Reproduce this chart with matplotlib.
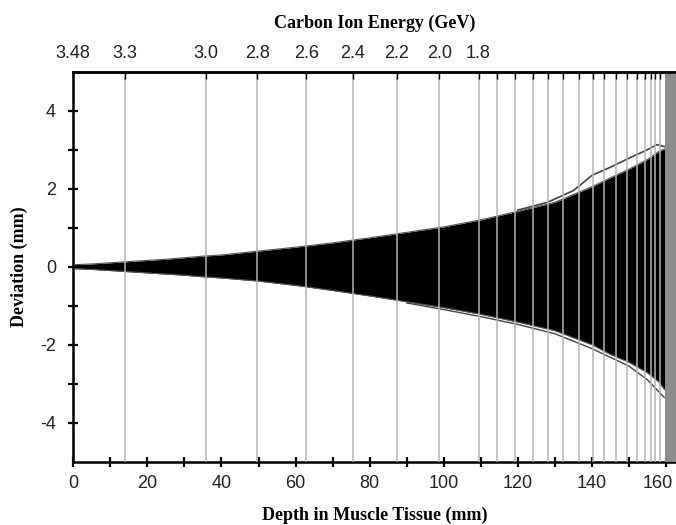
import numpy as np
import matplotlib
matplotlib.use("Agg")
import matplotlib.pyplot as plt
import matplotlib.transforms as mtransforms

plt.rcParams["axes.unicode_minus"] = False

# envelope of the simulated ion tracks (mm)
depth = [0, 5, 10, 15, 20, 25, 30, 35, 40, 50, 60, 70, 80, 90, 100,
         110, 120, 130, 140, 145, 150, 155, 158, 159.6]
upper = [0.05, 0.07, 0.10, 0.13, 0.16, 0.19, 0.23, 0.27, 0.30, 0.40, 0.50, 0.61, 0.74, 0.88, 1.02,
         1.20, 1.42, 1.65, 2.05, 2.28, 2.50, 2.75, 2.95, 3.02]
lower = [-0.05, -0.07, -0.10, -0.13, -0.16, -0.19, -0.22, -0.26, -0.29, -0.37, -0.48, -0.61, -0.75, -0.90, -1.05,
         -1.22, -1.42, -1.64, -2.00, -2.25, -2.45, -2.72, -2.95, -3.15]

# a few stray tracks outside the envelope
out_up_x = [120, 128, 135, 140, 145, 150, 155, 157.6, 159.5]
out_up_y = [1.45, 1.65, 1.95, 2.34, 2.55, 2.78, 3.00, 3.13, 3.08]
out_lo_x = [90, 100, 110, 120, 130, 140, 150, 155, 159.5]
out_lo_y = [-0.93, -1.10, -1.28, -1.48, -1.72, -2.10, -2.55, -2.90, -3.35]

# energy grid lines (depth where the carbon ion has given energy)
energy_depth = [13.96, 35.8, 49.7, 62.9, 75.4, 87.4, 98.8, 109.4, 114.3, 119.3, 124.0,
                128.1, 132.3, 136.4, 140.3, 143.3, 146.4, 149.4, 152.2, 154.4, 155.9, 157.1, 158.3]
label_depth = [0, 13.96, 35.8, 49.7, 62.9, 75.4, 87.4, 98.8, 109.4]
label_energy = ["3.48", "3.3", "3.0", "2.8", "2.6", "2.4", "2.2", "2.0", "1.8"]
band_start = 159.6
x_max = 162.7

fig = plt.figure(figsize=(6.76, 5.25), dpi=100)
ax = fig.add_axes([0.1084, 0.1206, 0.8916, 0.7429])

ax.fill_between(depth, lower, upper, color="black", lw=0, zorder=2)
ax.plot(depth, upper, color="#555555", lw=0.8, zorder=3)
ax.plot(depth, lower, color="#555555", lw=0.8, zorder=3)
ax.plot(out_up_x, out_up_y, color="#444444", lw=1.2, zorder=3)
ax.plot(out_lo_x, out_lo_y, color="#444444", lw=1.0, zorder=3)

for d in energy_depth:
    ax.axvline(d, color="#b4b4b4", lw=1.1, zorder=4)
ax.axvspan(band_start, x_max, color="#8c8c8c", lw=0, zorder=4)

ax.set_xlim(0, x_max)
ax.set_ylim(-5, 5)
ax.set_xticks(np.arange(0, 161, 20))
ax.set_xticks(np.arange(10, 161, 20), minor=True)
ax.set_yticks([-4, -2, 0, 2, 4])
ax.set_yticks([-3, -1, 1, 3], minor=True)
ax.tick_params(which="both", direction="inout", length=7, width=1.6, labelsize=13,
               colors="black")
ax.tick_params(axis="x", pad=6)
ax.tick_params(axis="y", pad=9)
for lab in ax.get_xticklabels() + ax.get_yticklabels():
    lab.set_family("Liberation Sans")
    lab.set_color("#222222")
# last depth label sits a little to the left so it stays inside the picture
last = ax.get_xticklabels()[-1]
last.set_transform(last.get_transform() + mtransforms.ScaledTranslation(-8 / 100, 0, fig.dpi_scale_trans))

for s in ["left", "bottom", "top"]:
    ax.spines[s].set_linewidth(1.8)
ax.spines["right"].set_visible(False)

ax.set_xlabel("Depth in Muscle Tissue (mm)", family="Liberation Serif", weight="bold",
              fontsize=13, labelpad=11)
ax.set_ylabel("Deviation (mm)", family="Liberation Serif", weight="bold",
              fontsize=13, labelpad=9)

top = ax.twiny()
top.set_xlim(ax.get_xlim())
top.set_xticks(label_depth)
top.set_xticklabels(label_energy)
top.set_xticks(energy_depth, minor=True)
top.tick_params(which="both", direction="in", length=5, width=1, labelsize=13, pad=7)
for lab in top.get_xticklabels():
    lab.set_family("Liberation Sans")
    lab.set_color("#222222")
top.spines["top"].set_linewidth(1.8)
top.spines["right"].set_visible(False)
top.set_xlabel("Carbon Ion Energy (GeV)", family="Liberation Serif", weight="bold",
               fontsize=13, labelpad=12)

fig.savefig("out.png", dpi=100)
